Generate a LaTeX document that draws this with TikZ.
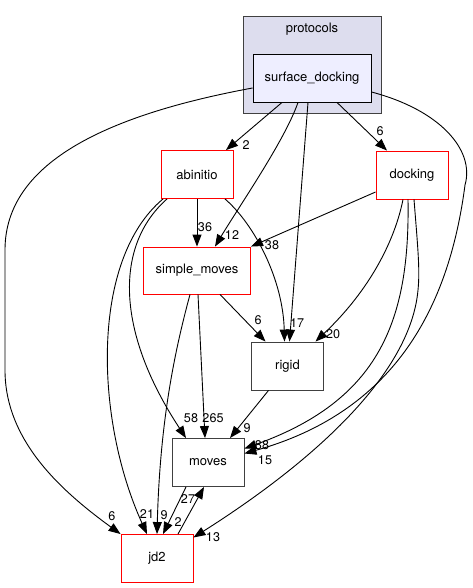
\documentclass[tikz,border=0pt]{standalone}
\usepackage{fontspec}
\setmainfont{TeX Gyre Heros}
\usetikzlibrary{arrows.meta}
\definecolor{clusterfill}{HTML}{DDDDEE}
\definecolor{dirfill}{HTML}{EEEEFF}
\begin{document}
\begin{tikzpicture}[
  x=1pt, y=-1pt,
  font=\fontsize{13}{15}\selectfont,
  dir/.style={draw=red, fill=white, line width=0.9pt, minimum width=72pt, minimum height=48pt, inner sep=0pt},
  leaf/.style={dir, draw=black!75},
  cluster/.style={draw=black!75, fill=clusterfill, line width=0.9pt, minimum width=138pt, minimum height=97pt, inner sep=0pt},
  num/.style={font=\fontsize{12.6}{14}\selectfont, inner sep=0pt},
  dep/.style={-{Triangle[length=12pt, width=9pt]}, line width=0.9pt}
]
\useasboundingbox (0,0) rectangle (472,588);

\node[cluster] (protocols) at (312,64.5) {};
\node (protocolslbl) at (312,29) {protocols};

\node[dir, draw=black, fill=dirfill, minimum width=118pt] (sd) at (312,78) {surface\_docking};
\node[dir] (ab) at (197,174.5) {abinitio};
\node[dir] (dk) at (412,175) {docking};
\node[dir, minimum width=107pt, minimum height=47pt] (sm) at (197,270.5) {simple\_moves};
\node[leaf] (rg) at (287.5,366) {rigid};
\node[leaf] (mv) at (208,462.5) {moves};
\node[dir] (jd) at (157,558.5) {jd2};

\draw[dep] ([yshift=-10pt]sd.west) .. controls (90,118) and (5,170) .. (5,250) -- (5,370) .. controls (5,440) and (60,490) .. (jd.north west);
\draw[dep] ([xshift=-30pt]sd.south) -- ([xshift=29pt]ab.north);
\draw[dep] ([xshift=-14pt]sd.south) .. controls (285,140) and (240,205) .. ([xshift=18pt]sm.north);
\draw[dep] ([xshift=-4pt]sd.south) -- ([xshift=2pt]rg.north);
\draw[dep] ([xshift=25pt]sd.south) -- ([xshift=-25pt]dk.north);
\draw[dep] ([yshift=-14pt]sd.east) .. controls (440,110) and (475,150) .. (465,185) .. controls (450,300) and (400,410) .. ([yshift=9pt]mv.east);

\draw[dep] ([yshift=-17pt]dk.west) -- (sm.north east);
\draw[dep] ([xshift=-9pt]dk.south) .. controls (395,240) and (370,290) .. ([xshift=28pt]rg.north);
\draw[dep] ([xshift=-4pt]dk.south) .. controls (410,320) and (380,400) .. ([yshift=14pt]mv.east);
\draw[dep] ([xshift=2pt]dk.south) .. controls (418,250) and (420,270) .. (418,290) .. controls (410,380) and (300,470) .. ([yshift=21pt]jd.east);

\draw[dep] (ab.south) -- (sm.north);
\draw[dep] ([xshift=28pt]ab.south) .. controls (255,225) and (283,280) .. ([xshift=-3pt]rg.north);
\draw[dep] ([xshift=-30pt]ab.south) .. controls (115,245) and (115,330) .. ([xshift=-22pt]mv.north);
\draw[dep] ([xshift=-34pt]ab.south) .. controls (90,260) and (95,420) .. ([xshift=-10pt]jd.north);

\draw[dep] ([xshift=23pt]sm.south) -- ([xshift=-22pt]rg.north);
\draw[dep] ([xshift=1pt]sm.south) -- ([xshift=-3pt]mv.north);
\draw[dep] ([xshift=-7pt]sm.south) .. controls (175,350) and (160,420) .. (jd.north);

\draw[dep] ([xshift=-19pt]rg.south) -- ([xshift=22pt]mv.north);
\draw[dep] ([xshift=-22pt]mv.south) -- ([xshift=6pt]jd.north);
\draw[dep] ([xshift=21pt]jd.north) -- ([xshift=-4pt]mv.south);

\node[num] (nsdab) at (246,145) {2};
\node[num] (nsdsm) at (232,235) {12};
\node[num] (nsdrg) at (297,323) {17};
\node[num] (nsddk) at (380,131) {6};
\node[num] (nsdmv) at (265,460) {15};
\node[num] (nsdjd) at (112,516) {6};
\node[num] (ndksm) at (272,245) {38};
\node[num] (ndkrg) at (333,334) {20};
\node[num] (ndkmv) at (262,445) {88};
\node[num] (ndkjd) at (213,537) {13};
\node[num] (nabsm) at (205,227) {36};
\node[num] (nabmv) at (191,418) {58};
\node[num] (nabjd) at (147,514) {21};
\node[num] (nsmrg) at (258,320) {6};
\node[num] (nsmmv) at (213,418) {265};
\node[num] (nsmjd) at (164,515) {9};
\node[num] (nrgmv) at (247,428) {9};
\node[num] (nmvjd) at (178,522) {2};
\node[num] (njdmv) at (188,499) {27};
\end{tikzpicture}
\end{document}
